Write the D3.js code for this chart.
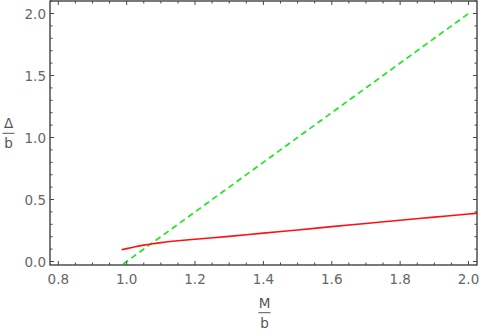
<!DOCTYPE html>
<html>
<head>
<meta charset="utf-8">
<script src="https://cdn.jsdelivr.net/npm/d3@7"></script>
<style>
  body { margin: 0; background: #fff; }
  text { font-family: "DejaVu Sans", sans-serif; }
</style>
</head>
<body>
<svg id="chart" width="482" height="336"></svg>
<script>
// red curve (solid)
const redX = [0.985, 1.0, 1.025, 1.05, 1.075, 1.1, 1.15, 1.2, 1.3, 1.4, 1.5, 1.6, 1.7, 1.8, 1.9, 2.0, 2.025];
const redY = [0.094, 0.104, 0.119, 0.132, 0.143, 0.152, 0.167, 0.180, 0.203, 0.229, 0.254, 0.281, 0.307, 0.333, 0.358, 0.383, 0.389];
// green dashed line
const greenX = [0.99, 2.0];
const greenY = [-0.02, 2.0];

const xTicks = [0.8, 1.0, 1.2, 1.4, 1.6, 1.8, 2.0];
const yTicks = [0.0, 0.5, 1.0, 1.5, 2.0];

const svg = d3.select("#chart");
const fLeft = 50, fRight = 477, fTop = 1, fBottom = 265;

const x = d3.scaleLinear().domain([0.8, 2.0]).range([58.3, 468.5]);
const y = d3.scaleLinear().domain([0, 2]).range([261.5, 13.5]);

const xMinor = d3.range(0.8, 2.0251, 0.05).filter(v => x(v) >= fLeft && x(v) <= fRight);
const yMinor = d3.range(0, 2.101, 0.1);

svg.append("clipPath").attr("id", "clip")
  .append("rect").attr("x", fLeft).attr("y", fTop).attr("width", fRight - fLeft).attr("height", fBottom - fTop);

const plot = svg.append("g").attr("clip-path", "url(#clip)");

const line = d3.line().x(d => x(d[0])).y(d => y(d[1])).curve(d3.curveMonotoneX);

plot.append("path")
  .datum(greenX.map((v, i) => [v, greenY[i]]))
  .attr("d", line)
  .attr("fill", "none")
  .attr("stroke", "#1ee81e")
  .attr("stroke-width", 1.7)
  .attr("stroke-dasharray", "6,4");

plot.append("path")
  .datum(redX.map((v, i) => [v, redY[i]]))
  .attr("d", line)
  .attr("fill", "none")
  .attr("stroke", "#ff1010")
  .attr("stroke-width", 1.6);

// frame
svg.append("rect")
  .attr("x", fLeft).attr("y", fTop)
  .attr("width", fRight - fLeft).attr("height", fBottom - fTop)
  .attr("fill", "none").attr("stroke", "#222").attr("stroke-width", 1.2);

// ticks on all four sides
const tickG = svg.append("g").attr("stroke", "#444").attr("stroke-width", 1);
xMinor.forEach(v => {
  const major = xTicks.some(t => Math.abs(t - v) < 1e-6);
  const len = major ? 4 : 2.5;
  tickG.append("line").attr("x1", x(v)).attr("x2", x(v)).attr("y1", fBottom).attr("y2", fBottom - len);
  tickG.append("line").attr("x1", x(v)).attr("x2", x(v)).attr("y1", fTop).attr("y2", fTop + len);
});
yMinor.forEach(v => {
  const major = yTicks.some(t => Math.abs(t - v) < 1e-6);
  const len = major ? 4 : 2.5;
  tickG.append("line").attr("y1", y(v)).attr("y2", y(v)).attr("x1", fLeft).attr("x2", fLeft + len);
  tickG.append("line").attr("y1", y(v)).attr("y2", y(v)).attr("x1", fRight).attr("x2", fRight - len);
});

// tick labels
svg.selectAll(".xl").data(xTicks).enter().append("text")
  .attr("x", d => x(d)).attr("y", 284)
  .attr("text-anchor", "middle")
  .attr("font-size", 13.5).attr("fill", "#666")
  .text(d => d.toFixed(1));

svg.selectAll(".yl").data(yTicks).enter().append("text")
  .attr("x", 46).attr("y", d => y(d) + 5)
  .attr("text-anchor", "end")
  .attr("font-size", 13.5).attr("fill", "#666")
  .text(d => d.toFixed(1));

// axis labels as fractions
function frac(cx, cy, num, den) {
  const g = svg.append("g").attr("fill", "#555").attr("font-size", 13.5);
  g.append("text").attr("x", cx).attr("y", cy - 5).attr("text-anchor", "middle").text(num);
  g.append("line").attr("x1", cx - 6).attr("x2", cx + 6).attr("y1", cy).attr("y2", cy)
    .attr("stroke", "#555").attr("stroke-width", 1);
  g.append("text").attr("x", cx).attr("y", cy + 15).attr("text-anchor", "middle").text(den);
}
frac(264.5, 312.7, "M", "b");
frac(8.5, 133.3, "Δ", "b");
</script>
</body>
</html>
